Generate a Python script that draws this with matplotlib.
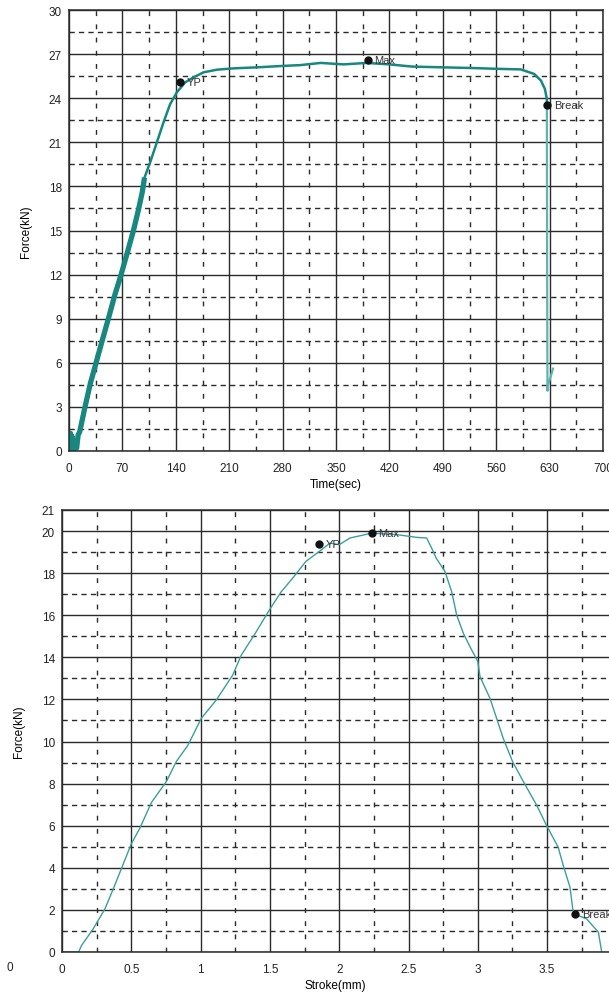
import matplotlib
matplotlib.use("Agg")
import matplotlib.pyplot as plt
from matplotlib.ticker import MultipleLocator, FormatStrFormatter

plt.rcParams['font.family'] = ['Liberation Sans', 'DejaVu Sans']

# --- top chart: force vs time ---
ramp_time = [1, 2, 3, 4, 6, 8, 10, 12, 14, 21, 28, 35.5, 44, 51.6, 60, 68.3, 77, 84.5, 91, 96, 99]
ramp_force = [0.0, 1.2, 0.3, 1.0, 0.1, 0.6, 0.2, 1.1, 1.3, 3.0, 4.6, 6.0, 7.6, 9.0, 10.6, 12.0, 13.6, 15.0, 16.4, 17.6, 18.6]

curve_time = [99, 106.4, 115.2, 123.9, 132.6, 141.4, 152.3, 163.3, 176.4, 194, 215.8,
              246.5, 281.5, 303, 330, 360, 390, 420, 450, 490, 530, 560, 592,
              609.8, 618.6, 623.8, 626.4, 626.4]
curve_force = [18.6, 19.64, 21.0, 22.36, 23.6, 24.4, 25.08, 25.42, 25.76, 25.94, 26.03,
               26.1, 26.2, 26.25, 26.4, 26.3, 26.4, 26.3, 26.15, 26.1, 26.05, 26.0, 25.96,
               25.65, 25.2, 24.63, 23.95, 23.5]

drop_time = [626.4, 626.8, 627.2, 628.0, 631.0, 634.5]
drop_force = [23.5, 12.0, 4.1, 4.5, 5.0, 5.6]

top_points = {"YP": (145.8, 25.1), "Max": (391.4, 26.6), "Break": (626.4, 23.54)}

# --- bottom chart: force vs stroke ---
stroke_mm = [0.0, 0.12, 0.14, 0.225, 0.31, 0.38, 0.50, 0.56, 0.645, 0.753, 0.825, 0.909,
             1.005, 1.113, 1.232, 1.293, 1.40, 1.496, 1.58, 1.664, 1.76, 1.856, 1.934,
             2.0, 2.078, 2.234, 2.415, 2.559, 2.631, 2.667, 2.70, 2.763, 2.811, 2.848,
             2.896, 2.944, 3.0, 3.016, 3.088, 3.184, 3.252, 3.33, 3.425, 3.497, 3.58,
             3.617, 3.665, 3.685, 3.70, 3.786, 3.87, 3.894]
stroke_force = [0.0, 0.0, 0.3, 1.1, 2.05, 3.16, 5.14, 5.86, 7.1, 8.1, 9.05, 9.83,
                11.1, 11.97, 13.16, 14.1, 15.2, 16.25, 17.1, 17.76, 18.56, 19.03, 19.43,
                19.35, 19.67, 19.9, 19.83, 19.7, 19.67, 19.19, 18.71, 18.08, 17.13, 16.0,
                15.14, 14.5, 13.8, 13.08, 12.05, 10.14, 9.03, 8.08, 6.97, 6.0, 4.98,
                4.1, 3.08, 2.05, 1.8, 1.57, 0.94, 0.0]

bottom_points = {"YP": (1.856, 19.38), "Max": (2.234, 19.9), "Break": (3.70, 1.8)}

TOP_COLOR = "#17877f"
BOT_COLOR = "#3a9e9e"
GRID = "#2a2a2a"


def style_grid(ax):
    ax.grid(which="major", color=GRID, linestyle="-", linewidth=1.0)
    # horizontal dashed lines: longer dashes, vertical ones: short ticks
    ax.yaxis.grid(which="minor", color=GRID, linestyle=(0, (3.8, 3.0)), linewidth=1.0)
    ax.xaxis.grid(which="minor", color=GRID, linestyle=(0, (3.5, 6.0)), linewidth=1.0)
    ax.tick_params(which="both", length=0, labelsize=8.5, colors="#222222")
    ax.tick_params(axis="x", pad=8)
    ax.tick_params(axis="y", pad=5)
    ax.set_axisbelow(True)
    for s in ax.spines.values():
        s.set_color(GRID)
        s.set_linewidth(1.1)


def mark(ax, pts):
    for name, (x, y) in pts.items():
        ax.plot(x, y, "o", color="#111111", markersize=5, zorder=5)
        ax.annotate(name, (x, y), xytext=(5, 0), textcoords="offset points",
                    fontsize=8, color="#333333", va="center", ha="left")


fig = plt.figure(figsize=(6.09, 9.95), dpi=100)

ax1 = fig.add_axes([69 / 609, 1 - 452 / 995, 534 / 609, 441 / 995])
ax1.plot(ramp_time, ramp_force, color=TOP_COLOR, linewidth=3.8, solid_capstyle="butt")
ax1.plot(curve_time, curve_force, color=TOP_COLOR, linewidth=1.8)
ax1.plot(drop_time, drop_force, color="#5fb3b0", linewidth=1.6)
mark(ax1, top_points)
ax1.set_xlim(0, 700)
ax1.set_ylim(0, 30)
ax1.xaxis.set_major_locator(MultipleLocator(70))
ax1.xaxis.set_minor_locator(MultipleLocator(35))
ax1.yaxis.set_major_locator(MultipleLocator(3))
ax1.yaxis.set_minor_locator(MultipleLocator(1.5))
style_grid(ax1)
ax1.set_xlabel("Time(sec)", fontsize=8.5, labelpad=3)
ax1.set_ylabel("Force(kN)", fontsize=8.5, labelpad=12)

ax2 = fig.add_axes([62 / 609, 1 - 953 / 995, 547 / 609, 442 / 995])
ax2.plot(stroke_mm, stroke_force, color=BOT_COLOR, linewidth=1.0)
mark(ax2, bottom_points)
ax2.set_xlim(0, 547 / 138.6)
ax2.set_ylim(0, 21)
ax2.xaxis.set_major_locator(MultipleLocator(0.5))
ax2.xaxis.set_minor_locator(MultipleLocator(0.25))
ax2.xaxis.set_major_formatter(FormatStrFormatter("%g"))
ax2.set_yticks(list(range(0, 21, 2)) + [21])
ax2.set_yticks(list(range(1, 20, 2)), minor=True)
style_grid(ax2)
ax2.spines["right"].set_visible(False)
ax2.set_xlabel("Stroke(mm)", fontsize=8.5, labelpad=3)
ax2.set_ylabel("Force(kN)", fontsize=8.5, labelpad=12)

fig.text(10 / 609, 1 - 968 / 995, "0", fontsize=8.5, color="#222222", ha="center", va="center")

fig.savefig("out.png", dpi=100)
